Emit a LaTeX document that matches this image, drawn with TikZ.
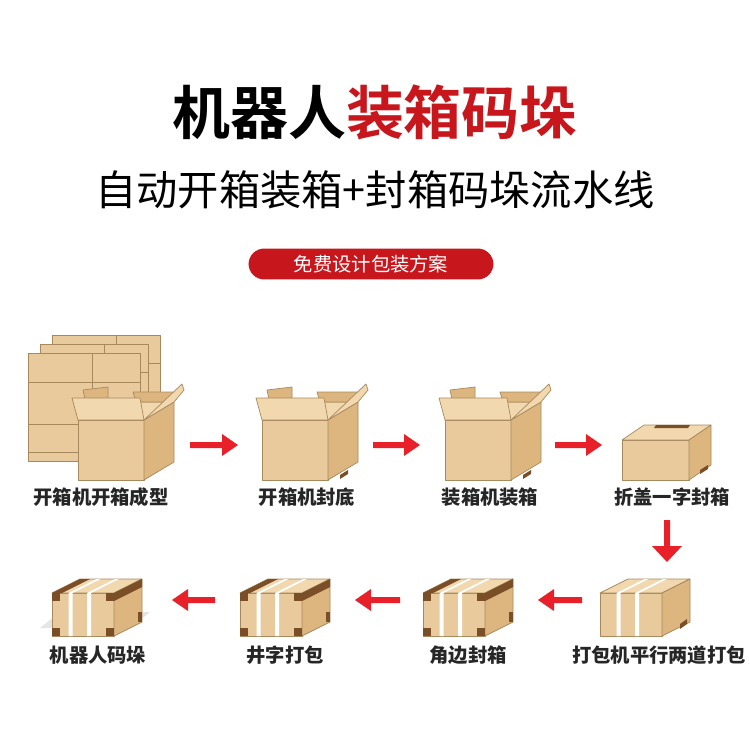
\documentclass[tikz,border=0pt]{standalone}
\usepackage{fontspec}
\newfontfamily\cjk{Noto Sans CJK SC}
\newfontfamily\cjkb{Noto Sans CJK SC Bold}
\definecolor{fr}{HTML}{E9CA9C}
\definecolor{sd}{HTML}{DDB67F}
\definecolor{tp}{HTML}{F2D8AE}
\definecolor{ln}{HTML}{A8895E}
\definecolor{rd}{HTML}{E8202A}
\definecolor{tape}{HTML}{7A4E26}
\definecolor{title}{HTML}{C8161D}
\tikzset{bx/.style={draw=ln,line width=0.4pt,line join=round},
lab/.style={font=\cjk\fontsize{11}{12}\selectfont\bfseries,text=black!85}}
\newcommand\cbox[6]{%
 \filldraw[bx,fill=fr] (#1,#2) rectangle ++(#3,#4);
 \filldraw[bx,fill=tp] (#1,#2)--++(#5,-#6)--++(#3,0)--++(-#5,#6)--cycle;
 \filldraw[bx,fill=sd] (#1+#3,#2)--++(#5,-#6)--++(0,#4)--++(-#5,#6)--cycle;}
\newcommand\obox[6]{%
 \filldraw[bx,fill=sd] (#1+8,#2-#6+2)--(#1+5,#2-#6-12)--(#1+30,#2-#6-15)--(#1+30,#2-#6+2)--cycle;
 \filldraw[bx,fill=tp] (#1+#5,#2-#6)--++(#3,0)--++(-#5,#6)--(#1,#2)--cycle;
 \filldraw[bx,fill=sd] (#1+#5+28,#2-#6)--(#1+#5+25,#2-#6-10)--(#1+#3+#5+2,#2-#6-10)--(#1+#3+#5,#2-#6)--cycle;
 \filldraw[bx,fill=fr] (#1,#2+#4)rectangle(#1+#3,#2);
 \filldraw[bx,fill=sd] (#1+#3,#2)--++(#5,-#6)--++(0,#4)--++(-#5,#6)--cycle;
 \filldraw[bx,fill=tp] (#1,#2)--(#1-6,#2-22)--(#1+#3-4,#2-22)--(#1+#3,#2)--cycle;
 \filldraw[bx,fill=tp] (#1+#3,#2)--(#1+#3+#5+8,#2-#6-18)--(#1+#3+#5+10,#2-#6-12)--(#1+#3+#5,#2-#6)--cycle;}
\newcommand\arr[4]{%
 \fill[rd] (#1,#3-3)--(#4,#3-3)--(#4,#3-11)--(#2,#3)--(#4,#3+11)--(#4,#3+3)--(#1,#3+3)--cycle;}
\newcommand\straps[6]{%
 \cbox{#1}{#2}{#3}{#4}{#5}{#6}
 \foreach \f in {0.3,0.6}{
  \fill[white] (#1+\f*#3-2,#2+#4)--(#1+\f*#3-2,#2)--(#1+\f*#3-2+#5,#2-#6)--(#1+\f*#3+2+#5,#2-#6)--(#1+\f*#3+2,#2)--(#1+\f*#3+2,#2+#4)--cycle;}}
\newcommand\corners[6]{%
 \fill[tape] (#1,#2) rectangle ++(8,8); \fill[tape] (#1+#3-8,#2) rectangle ++(8,8);
 \fill[tape] (#1,#2+#4-8) rectangle ++(8,8); \fill[tape] (#1+#3-8,#2+#4-8) rectangle ++(8,8);
 \fill[tape] (#1+#3,#2)--++(#5,-#6)--++(0,8)--++(-#5,#6)--cycle;
 \fill[tape] (#1+#3+#5-4,#2-#6+#4-10) rectangle ++(4,10);
 \fill[tape] (#1,#2)--++(#5,-#6)--++(10,0)--++(-#5,#6)--cycle;}
\begin{document}
\begin{tikzpicture}[x=0.02cm,y=-0.02cm]
\fill[white] (0,0) rectangle (750,750);
\useasboundingbox (0,0) rectangle (750,750);
\node[font=\cjkb\fontsize{33}{34}\selectfont] (t) at (375,112) {机器人\textcolor{title}{装箱码垛}};
\node[font=\cjk\fontsize{23.5}{24}\selectfont] (st) at (375,190) {自动开箱装箱+封箱码垛流水线};
\node[fill=title,text=white,rounded corners=9pt,minimum width=4.9cm,minimum height=0.62cm,font=\cjk\fontsize{11}{12}\selectfont] (pill) at (371,264) {免费设计包装方案};
\foreach \o in {0,9,18}{
 \filldraw[bx,fill=fr] (52-\o*1.3,335+\o) rectangle ++(108,108);
 \draw[ln] (52-\o*1.3+64,335+\o)--++(0,108) (52-\o*1.3,335+\o+28)--++(108,0);}
\filldraw[bx,fill=fr] (28,353) rectangle (140,452);
\draw[ln] (92,353)--(92,452) (28,382)--(140,382) (28,424)--(140,424);
\obox{78}{420}{66}{60}{30}{18}
\obox{262}{420}{66}{60}{30}{18}
\obox{445}{420}{66}{60}{30}{18}
\fill[tape] (340,475)--(348,470)--(348,474)--(340,479)--cycle;
\fill[tape] (523,475)--(531,470)--(531,474)--(523,479)--cycle;
\cbox{622}{440}{67}{40}{22}{15}
\fill[tape] (656,425)--(690,425)--(688,428)--(654,428)--cycle;
\fill[tape] (700,470)--(708,465)--(708,469)--(700,474)--cycle;
\straps{600}{593}{62}{43}{28}{14}
\fill[tape] (680,624)--(687,619)--(687,624)--(680,629)--cycle;
\straps{423}{593}{62}{43}{28}{14}\corners{423}{593}{62}{43}{28}{14}
\straps{240}{593}{62}{43}{28}{14}\corners{240}{593}{62}{43}{28}{14}
\fill[gray!20] (40,628)--(130,628)--(150,612)--(60,612)--cycle;
\straps{52}{593}{62}{43}{28}{14}\corners{52}{593}{62}{43}{28}{14}
\node[lab] (l1) at (101,497) {开箱机开箱成型};
\node[lab] (l2) at (307,497) {开箱机封底};
\node[lab] (l3) at (490,497) {装箱机装箱};
\node[lab] (l4) at (672,497) {折盖一字封箱};
\node[lab] (l5) at (659,655) {打包机平行两道打包};
\node[lab] (l6) at (468,655) {角边封箱};
\node[lab] (l7) at (285,655) {井字打包};
\node[lab] (l8) at (98,655) {机器人码垛};
\arr{190}{238}{445}{222}
\arr{373}{420}{445}{404}
\arr{555}{602}{445}{586}
\fill[rd] (664,520)--(670,520)--(670,546)--(682,546)--(667,562)--(652,546)--(664,546)--cycle;
\arr{582}{538}{600}{554}
\arr{400}{355}{600}{371}
\arr{215}{172}{600}{188}
\end{tikzpicture}
\end{document}
